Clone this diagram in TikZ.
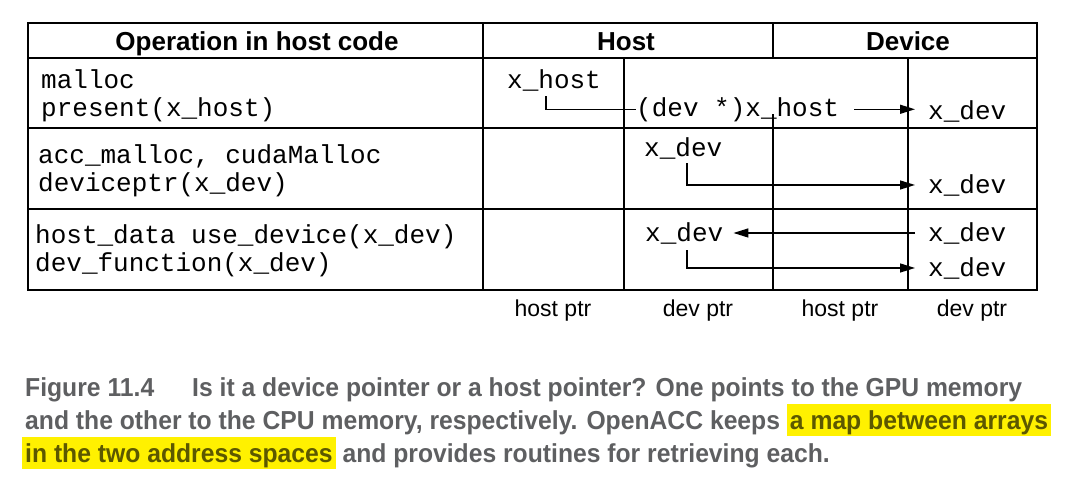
\documentclass[tikz,border=0pt]{standalone}
\usepackage{fontspec}
\setmainfont{Liberation Sans}
\newfontfamily\monofont{Liberation Mono}
\newfontfamily\capfont[FakeStretch=0.95]{Liberation Sans}
\usepackage{xcolor}
\definecolor{capgray}{HTML}{5E5F61}
\definecolor{hlyellow}{HTML}{FFF100}
\definecolor{hltext}{HTML}{5C5800}
\usetikzlibrary{arrows.meta}
\newcommand{\hlmark}[1]{{\setlength{\fboxsep}{0pt}\colorbox{hlyellow}{\hspace{3pt}\rule[-7pt]{0pt}{32pt}\color{hltext}#1\hspace{3pt}}}}

\begin{document}
\begin{tikzpicture}[x=1pt, y=-1pt,
  grid/.style={line width=1.5pt},
  head/.style={font=\fontsize{26}{28}\selectfont\bfseries, anchor=base, inner sep=0pt},
  code/.style={font=\monofont\fontsize{26}{28}\selectfont, anchor=base west, inner sep=0pt},
  ptrlabel/.style={font=\fontsize{23}{26}\selectfont, anchor=base, inner sep=0pt},
  caption/.style={font=\capfont\bfseries\fontsize{26}{33}\selectfont, text=capgray,
                  anchor=base west, inner sep=0pt},
  link/.style={line width=1.4pt},
  arrow/.style={-{Triangle[length=15pt,width=9pt]}, line width=1.4pt},
]
  \useasboundingbox (0,0) rectangle (1080,493);

  % Tableau
  \draw[grid] (28,23) rectangle (1037,290);
  \draw[grid] (28,58) -- (1037,58) (28,128) -- (1037,128) (28,209) -- (1037,209);
  \draw[grid] (483,23) -- (483,290) (624,58) -- (624,290) (908,58) -- (908,290)
              (773,23) -- (773,58) (773,114) -- (773,290);

  % En-tetes
  \node[head] (hop) at (257,50) {Operation in host code};
  \node[head] (hhost) at (626,50) {Host};
  \node[head] (hdev) at (908,50) {Device};

  % Operations
  \node[code] (opA1) at (41,88) {malloc};
  \node[code] (opA2) at (41,116) {present(x\_host)};
  \node[code] (opB1) at (38,163) {acc\_malloc, cudaMalloc};
  \node[code] (opB2) at (38,191) {deviceptr(x\_dev)};
  \node[code] (opC1) at (35,243) {host\_data use\_device(x\_dev)};
  \node[code] (opC2) at (35,271) {dev\_function(x\_dev)};

  % Pointeurs
  \node[code] (xhost) at (507,88) {x\_host};
  \node[code] (cast) at (636,116) {(dev *)x\_host};
  \node[code] (rdevA) at (928,119) {x\_dev};
  \node[code] (xdevB) at (644,156) {x\_dev};
  \node[code] (rdevB) at (928,193) {x\_dev};
  \node[code] (xdevC) at (645,241) {x\_dev};
  \node[code] (rdevC) at (928,241) {x\_dev};
  \node[code] (rdevD) at (928,276) {x\_dev};

  % Liens
  \draw[link] ([xshift=39pt,yshift=-8pt]xhost.base west) |- (cast.west);
  \draw[arrow, shorten <=15pt, shorten >=13pt] (cast.east) -- (cast.east -| rdevA.west);
  \draw[arrow, shorten >=13pt] ([xshift=43pt,yshift=-7pt]xdevB.base west) |- (rdevB.west);
  \draw[arrow, shorten <=13pt, shorten >=10pt] (rdevC.west) -- (rdevC.west -| xdevC.east);
  \draw[arrow, shorten >=13pt] ([xshift=42pt,yshift=-9pt]xdevC.base west) |- (rdevD.west);

  % Legende des colonnes
  \node[ptrlabel] (lhp1) at (553,316) {host ptr};
  \node[ptrlabel] (ldp1) at (698,316) {dev ptr};
  \node[ptrlabel] (lhp2) at (840,316) {host ptr};
  \node[ptrlabel] (ldp2) at (972,316) {dev ptr};

  % Legende
  \node[caption] (cap1) at (25,396)
    {Figure 11.4\hspace{38pt}Is it a device pointer or a host pointer? One points to the GPU memory};
  \node[caption] (cap2) at (25,429)
    {and the other to the CPU memory, respectively. OpenACC keeps \hlmark{a map between arrays}};
  \node[caption] (cap3) at (22,462)
    {\hlmark{in the two address spaces} and provides routines for retrieving each.};
\end{tikzpicture}
\end{document}
